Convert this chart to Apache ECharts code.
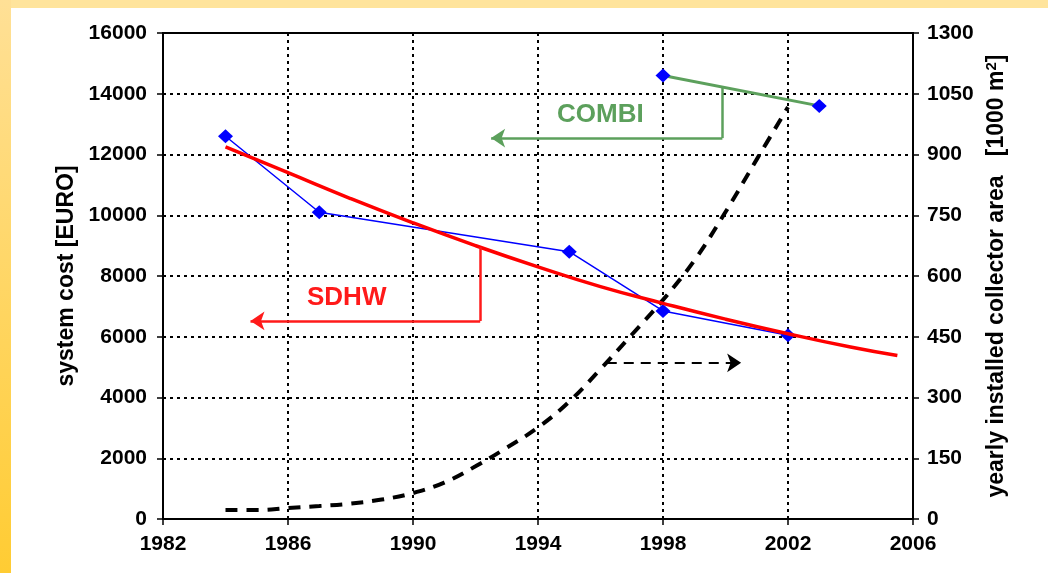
<!DOCTYPE html>
<html>
<head>
<meta charset="utf-8">
<script src="https://cdn.jsdelivr.net/npm/echarts@6/dist/echarts.min.js"></script>
<style>html,body{margin:0;padding:0;background:#fff}#c{width:1048px;height:573px}</style>
</head>
<body>
<div id="c"></div>
<script>
// ---- data ----
var sdhwCost = [[1984, 12600], [1987, 10100], [1995, 8800], [1998, 6850], [2002, 6050]];
var combiCost = [[1998, 14600], [2003, 13600]];
var sdhwTrend = [[1984, 12250], [1986, 11400], [1988, 10550], [1990, 9750], [1992, 9000], [1994, 8300], [1996, 7650], [1998, 7100], [2000, 6580], [2002, 6100], [2004, 5660], [2005.5, 5380]];
var collectorArea = [[1984, 22], [1985, 22], [1986, 27], [1987, 32], [1988, 38], [1989, 48], [1990, 64], [1991, 90], [1992, 130], [1993, 176], [1994, 226], [1995, 290], [1996, 370], [1997, 455], [1998, 541], [1999, 638], [2000, 758], [2001, 888], [2002, 1017]];
var sdhwArrowDown = [[1992.15, 8950], [1992.15, 6520]];
var sdhwArrowLeft = [[1992.15, 6520], [1984.8, 6520]];
var combiArrowDown = [[1999.9, 14240], [1999.9, 12540]];
var combiArrowLeft = [[1999.9, 12540], [1992.5, 12540]];
var areaArrow = [[1996.2, 5140], [2000.5, 5140]];
var xTicks = {min: 1982, max: 2006, interval: 4};
var leftTicks = {min: 0, max: 16000, interval: 2000};
var rightTicks = {min: 0, max: 1200, interval: 150};
var rightTopLabel = '1300';

var FONT = '"Liberation Sans", Arial, sans-serif';
var chart = echarts.init(document.getElementById('c'));
var gridDots = {color: '#000', width: 2, type: [3, 4]};
var plain = function (v) { return String(v); };
var tickLabel = {color: '#000', fontFamily: FONT, fontWeight: 'bold', fontSize: 21};
chart.setOption({
  backgroundColor: '#fff',
  animation: false,
  graphic: [
    {type: 'rect', shape: {x: 0, y: 0, width: 1048, height: 8}, style: {fill: '#FFE49C'}, silent: true},
    {type: 'rect', shape: {x: 0, y: 0, width: 11, height: 573}, style: {fill: new echarts.graphic.LinearGradient(0, 0, 0, 1, [{offset: 0, color: '#FFE096'}, {offset: 1, color: '#FFCC33'}])}, silent: true},
    {type: 'text', left: 307, top: 285, style: {text: 'SDHW', fill: '#FF1A1A', font: 'bold 26px ' + FONT}, z: 10},
    {type: 'text', left: 557, top: 102, style: {text: 'COMBI', fill: '#5CA05C', font: 'bold 26px ' + FONT}, z: 10}
  ],
  grid: {left: 163, right: 135, top: 33, bottom: 54, show: true, borderColor: '#000', borderWidth: 2, backgroundColor: 'transparent'},
  xAxis: {
    type: 'value', min: xTicks.min, max: xTicks.max, interval: xTicks.interval,
    axisLine: {lineStyle: {color: '#000', width: 2}},
    axisTick: {show: true, length: 6, lineStyle: {color: '#000', width: 1.5}},
    axisLabel: Object.assign({margin: 15, formatter: plain}, tickLabel),
    splitLine: {show: true, lineStyle: gridDots}
  },
  yAxis: [{
    type: 'value', min: leftTicks.min, max: leftTicks.max, interval: leftTicks.interval,
    name: 'system cost [EURO]', nameLocation: 'middle', nameRotate: 90, nameGap: 83,
    nameTextStyle: {color: '#000', fontFamily: FONT, fontWeight: 'bold', fontSize: 23},
    axisLine: {show: true, lineStyle: {color: '#000', width: 2}},
    axisTick: {show: true, length: 6, lineStyle: {color: '#000', width: 1.5}},
    axisLabel: Object.assign({margin: 16, formatter: plain}, tickLabel),
    splitLine: {show: true, lineStyle: gridDots}
  }, {
    type: 'value', position: 'right', min: rightTicks.min, max: rightTicks.max, interval: rightTicks.interval,
    name: 'yearly installed collector area   [1000 m{sup|2}]', nameLocation: 'middle', nameRotate: 90, nameGap: 65,
    nameTextStyle: {color: '#000', fontFamily: FONT, fontWeight: 'bold', fontSize: 23,
      rich: {sup: {fontFamily: FONT, fontWeight: 'bold', fontSize: 15, color: '#000', verticalAlign: 'top', padding: [0, 0, 10, 0]}}},
    axisLine: {show: true, lineStyle: {color: '#000', width: 2}},
    axisTick: {show: true, length: 6, lineStyle: {color: '#000', width: 1.5}},
    axisLabel: Object.assign({margin: 14,
      formatter: function (v) { return v === rightTicks.max ? rightTopLabel : String(v); }}, tickLabel),
    splitLine: {show: false}
  }],
  series: [
    {type: 'line', name: 'area', yAxisIndex: 1, data: collectorArea, smooth: 0.4, showSymbol: false, symbol: 'none',
      lineStyle: {color: '#000', width: 4, type: [12, 9], cap: 'butt'}, z: 3},
    {type: 'line', name: 'SDHW', data: sdhwCost, symbol: 'diamond', symbolSize: [15, 14],
      itemStyle: {color: '#0000FF'}, lineStyle: {color: '#0000FF', width: 1.5}, z: 4},
    {type: 'line', name: 'trend', data: sdhwTrend, smooth: true, symbol: 'none',
      lineStyle: {color: '#FF0000', width: 3.5}, z: 5},
    {type: 'line', name: 'COMBI', data: combiCost, symbol: 'diamond', symbolSize: [15, 14],
      itemStyle: {color: '#0000FF'}, lineStyle: {color: '#5CA05C', width: 3}, z: 4},
    {type: 'lines', coordinateSystem: 'cartesian2d', symbol: ['none', 'none'],
      data: [{coords: sdhwArrowDown, lineStyle: {color: '#FF1A1A', width: 2.5, opacity: 1}},
             {coords: combiArrowDown, lineStyle: {color: '#5CA05C', width: 2.5, opacity: 1}}], z: 6},
    {type: 'lines', coordinateSystem: 'cartesian2d', symbol: ['none', 'arrow'], symbolSize: [11, 14],
      data: [{coords: sdhwArrowLeft, lineStyle: {color: '#FF1A1A', width: 2.5, opacity: 1}},
             {coords: combiArrowLeft, lineStyle: {color: '#5CA05C', width: 2.5, opacity: 1}}], z: 6},
    {type: 'lines', coordinateSystem: 'cartesian2d', symbol: ['none', 'arrow'], symbolSize: [11, 14],
      data: [{coords: areaArrow}], lineStyle: {color: '#000', width: 2, type: [10, 7], opacity: 1}, z: 6}
  ]
});
</script>
</body>
</html>
